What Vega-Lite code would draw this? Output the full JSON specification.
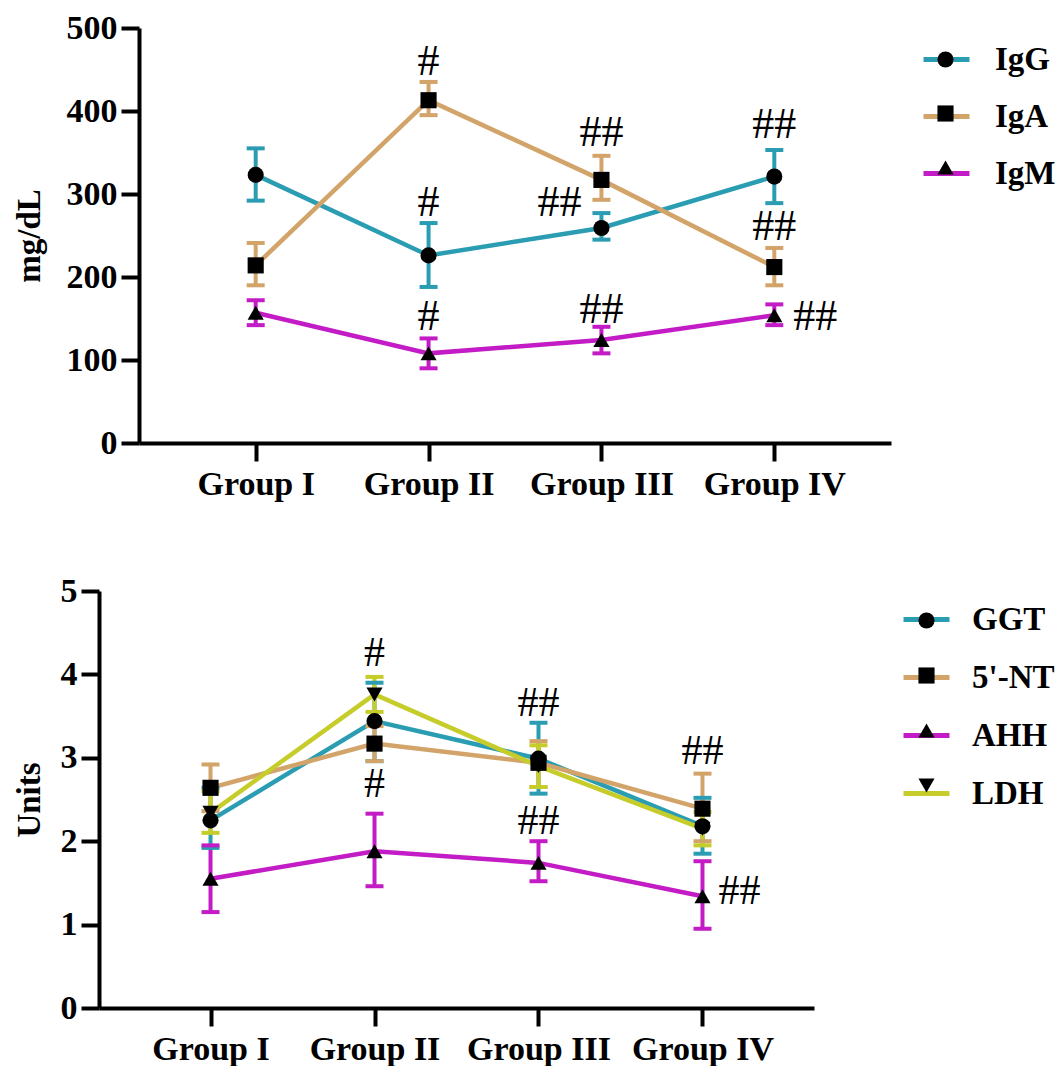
{
  "$schema": "https://vega.github.io/schema/vega-lite/v6.json",
  "autosize": {"type": "pad"},
  "padding": {"left": 13, "top": 11, "right": 0, "bottom": 0},
  "background": "white",
  "config": {
    "font": "Liberation Serif",
    "view": {"stroke": null},
    "axis": {
      "grid": false,
      "domainColor": "black", "domainWidth": 4,
      "tickColor": "black", "tickWidth": 4, "tickSize": 18,
      "labelFont": "Liberation Serif", "labelFontSize": 34, "labelFontWeight": "bold", "labelColor": "black",
      "titleFont": "Liberation Serif", "titleFontSize": 33, "titleFontWeight": "bold", "titleColor": "black"
    }
  },
  "datasets": {
    "top": [
      {"group": "Group I", "series": "IgG", "mean": 323, "lo": 292, "hi": 355},
      {"group": "Group II", "series": "IgG", "mean": 226, "lo": 188, "hi": 265},
      {"group": "Group III", "series": "IgG", "mean": 259, "lo": 245, "hi": 277},
      {"group": "Group IV", "series": "IgG", "mean": 321, "lo": 289, "hi": 353},
      {"group": "Group I", "series": "IgA", "mean": 214, "lo": 190, "hi": 241},
      {"group": "Group II", "series": "IgA", "mean": 413, "lo": 395, "hi": 435},
      {"group": "Group III", "series": "IgA", "mean": 317, "lo": 293, "hi": 346},
      {"group": "Group IV", "series": "IgA", "mean": 212, "lo": 190, "hi": 235},
      {"group": "Group I", "series": "IgM", "mean": 157, "lo": 142, "hi": 172},
      {"group": "Group II", "series": "IgM", "mean": 108, "lo": 90, "hi": 126},
      {"group": "Group III", "series": "IgM", "mean": 124, "lo": 108, "hi": 140},
      {"group": "Group IV", "series": "IgM", "mean": 154, "lo": 142, "hi": 167}
    ],
    "bottom": [
      {"group": "Group I", "series": "GGT", "mean": 2.25, "lo": 1.92, "hi": 2.64},
      {"group": "Group II", "series": "GGT", "mean": 3.44, "lo": 2.96, "hi": 3.9},
      {"group": "Group III", "series": "GGT", "mean": 2.99, "lo": 2.57, "hi": 3.42},
      {"group": "Group IV", "series": "GGT", "mean": 2.18, "lo": 1.85, "hi": 2.52},
      {"group": "Group I", "series": "5'-NT", "mean": 2.64, "lo": 2.36, "hi": 2.92},
      {"group": "Group II", "series": "5'-NT", "mean": 3.17, "lo": 2.96, "hi": 3.38},
      {"group": "Group III", "series": "5'-NT", "mean": 2.94, "lo": 2.65, "hi": 3.2},
      {"group": "Group IV", "series": "5'-NT", "mean": 2.39, "lo": 2.0, "hi": 2.81},
      {"group": "Group I", "series": "AHH", "mean": 1.55, "lo": 1.15, "hi": 1.95},
      {"group": "Group II", "series": "AHH", "mean": 1.88, "lo": 1.46, "hi": 2.33},
      {"group": "Group III", "series": "AHH", "mean": 1.74, "lo": 1.52, "hi": 2.0},
      {"group": "Group IV", "series": "AHH", "mean": 1.34, "lo": 0.95, "hi": 1.76},
      {"group": "Group I", "series": "LDH", "mean": 2.34, "lo": 2.1, "hi": 2.6},
      {"group": "Group II", "series": "LDH", "mean": 3.76, "lo": 3.55, "hi": 3.97},
      {"group": "Group III", "series": "LDH", "mean": 2.9, "lo": 2.65, "hi": 3.15},
      {"group": "Group IV", "series": "LDH", "mean": 2.15, "lo": 1.95, "hi": 2.35}
    ],
    "topAnn": [
      {"group": "Group II", "value": 459, "label": "#", "place": "above"},
      {"group": "Group II", "value": 289, "label": "#", "place": "above"},
      {"group": "Group II", "value": 152, "label": "#", "place": "above"},
      {"group": "Group III", "value": 373, "label": "##", "place": "above"},
      {"group": "Group III", "value": 289, "label": "##", "place": "left"},
      {"group": "Group III", "value": 160, "label": "##", "place": "above"},
      {"group": "Group IV", "value": 383, "label": "##", "place": "above"},
      {"group": "Group IV", "value": 260, "label": "##", "place": "above"},
      {"group": "Group IV", "value": 152, "label": "##", "place": "right"}
    ],
    "bottomAnn": [
      {"group": "Group II", "value": 4.26, "label": "#", "place": "above"},
      {"group": "Group II", "value": 2.69, "label": "#", "place": "above"},
      {"group": "Group III", "value": 3.66, "label": "##", "place": "above"},
      {"group": "Group III", "value": 2.24, "label": "##", "place": "above"},
      {"group": "Group IV", "value": 3.08, "label": "##", "place": "above"},
      {"group": "Group IV", "value": 1.4, "label": "##", "place": "right"}
    ]
  },
  "resolve": {
    "scale": {"color": "independent", "shape": "independent", "x": "independent", "y": "independent"},
    "legend": {"color": "independent", "shape": "independent"}
  },
  "spacing": 73,
  "vconcat": [
    {
      "width": 752,
      "height": 415,
      "data": {"name": "top"},
      "encoding": {
        "x": {"field": "group", "type": "ordinal", "title": null,
              "scale": {"type": "point", "padding": 0.675, "domain": ["Group I", "Group II", "Group III", "Group IV"]},
              "axis": {"labelAngle": 0, "labelPadding": 6}}
      },
      "layer": [
        {
          "mark": {"type": "line", "strokeWidth": 4.5},
          "encoding": {
            "y": {"field": "mean", "type": "quantitative", "title": "mg/dL",
                  "scale": {"domain": [0, 500], "nice": false},
                  "axis": {"values": [0, 100, 200, 300, 400, 500], "labelPadding": 4, "titlePadding": 20}},
            "color": {"field": "series", "type": "nominal",
                      "scale": {"domain": ["IgG", "IgA", "IgM"], "range": ["#2A9DB3", "#D2A469", "#C31CC6"]},
                      "legend": {"orient": "none", "legendX": 787, "legendY": 11, "title": null,
                                 "symbolType": "M-1.3,0L1.3,0", "symbolSize": 1250, "symbolStrokeWidth": 5,
                                 "labelFont": "Liberation Serif", "labelFontSize": 33, "labelFontWeight": "bold",
                                 "labelColor": "black", "labelOffset": 28, "rowPadding": 19, "padding": 0}}
          }
        },
        {
          "mark": {"type": "rule", "strokeWidth": 4},
          "encoding": {
            "y": {"field": "lo", "type": "quantitative", "title": "mg/dL"},
            "y2": {"field": "hi"},
            "color": {"field": "series", "type": "nominal", "legend": null}
          }
        },
        {
          "mark": {"type": "tick", "thickness": 4, "size": 18, "opacity": 1},
          "encoding": {
            "y": {"field": "lo", "type": "quantitative", "title": "mg/dL"},
            "color": {"field": "series", "type": "nominal", "legend": null}
          }
        },
        {
          "mark": {"type": "tick", "thickness": 4, "size": 18, "opacity": 1},
          "encoding": {
            "y": {"field": "hi", "type": "quantitative", "title": "mg/dL"},
            "color": {"field": "series", "type": "nominal", "legend": null}
          }
        },
        {
          "mark": {"type": "point", "filled": true, "size": 260, "color": "black", "opacity": 1},
          "encoding": {
            "y": {"field": "mean", "type": "quantitative", "title": "mg/dL"},
            "shape": {"field": "series", "type": "nominal", "sort": ["IgG", "IgA", "IgM"],
                      "scale": {"range": ["circle", "square", "triangle-up"]},
                      "legend": {"orient": "none", "legendX": 790, "legendY": 15, "title": null,
                                 "symbolFillColor": "black", "symbolStrokeColor": "black", "symbolSize": 260,
                                 "labelExpr": "' '", "labelFont": "Liberation Serif", "labelFontSize": 33,
                                 "labelFontWeight": "bold", "rowPadding": 20, "padding": 0}}
          }
        },
        {
          "data": {"name": "topAnn"},
          "transform": [{"filter": "datum.place === 'above'"}],
          "mark": {"type": "text", "font": "Liberation Serif", "fontSize": 44, "baseline": "middle", "align": "center", "color": "black"},
          "encoding": {
            "y": {"field": "value", "type": "quantitative", "title": "mg/dL"},
            "text": {"field": "label"}
          }
        },
        {
          "data": {"name": "topAnn"},
          "transform": [{"filter": "datum.place === 'left'"}],
          "mark": {"type": "text", "font": "Liberation Serif", "fontSize": 44, "baseline": "middle", "align": "center", "dx": -42, "color": "black"},
          "encoding": {
            "y": {"field": "value", "type": "quantitative", "title": "mg/dL"},
            "text": {"field": "label"}
          }
        },
        {
          "data": {"name": "topAnn"},
          "transform": [{"filter": "datum.place === 'right'"}],
          "mark": {"type": "text", "font": "Liberation Serif", "fontSize": 44, "baseline": "middle", "align": "center", "dx": 41, "color": "black"},
          "encoding": {
            "y": {"field": "value", "type": "quantitative", "title": "mg/dL"},
            "text": {"field": "label"}
          }
        }
      ]
    },
    {
      "width": 675,
      "height": 417,
      "data": {"name": "bottom"},
      "encoding": {
        "x": {"field": "group", "type": "ordinal", "title": null,
              "scale": {"type": "point", "padding": 0.68, "range": [-40, 675], "domain": ["Group I", "Group II", "Group III", "Group IV"]},
              "axis": {"labelAngle": 0, "labelPadding": 6}}
      },
      "layer": [
        {
          "mark": {"type": "line", "strokeWidth": 4.5},
          "encoding": {
            "y": {"field": "mean", "type": "quantitative", "title": "Units",
                  "scale": {"domain": [0, 5], "nice": false},
                  "axis": {"values": [0, 1, 2, 3, 4, 5], "format": "d", "offset": 40, "labelPadding": 4, "titlePadding": 14}},
            "color": {"field": "series", "type": "nominal",
                      "scale": {"domain": ["GGT", "5'-NT", "AHH", "LDH"], "range": ["#2A9DB3", "#D2A469", "#C31CC6", "#C6CC2A"]},
                      "legend": {"orient": "none", "legendX": 767, "legendY": 8, "title": null,
                                 "symbolType": "M-1.3,0L1.3,0", "symbolSize": 1250, "symbolStrokeWidth": 5,
                                 "labelFont": "Liberation Serif", "labelFontSize": 33, "labelFontWeight": "bold",
                                 "labelColor": "black", "labelOffset": 25, "rowPadding": 20, "padding": 0}}
          }
        },
        {
          "mark": {"type": "rule", "strokeWidth": 4},
          "encoding": {
            "y": {"field": "lo", "type": "quantitative", "title": "Units"},
            "y2": {"field": "hi"},
            "color": {"field": "series", "type": "nominal", "legend": null}
          }
        },
        {
          "mark": {"type": "tick", "thickness": 4, "size": 18, "opacity": 1},
          "encoding": {
            "y": {"field": "lo", "type": "quantitative", "title": "Units"},
            "color": {"field": "series", "type": "nominal", "legend": null}
          }
        },
        {
          "mark": {"type": "tick", "thickness": 4, "size": 18, "opacity": 1},
          "encoding": {
            "y": {"field": "hi", "type": "quantitative", "title": "Units"},
            "color": {"field": "series", "type": "nominal", "legend": null}
          }
        },
        {
          "mark": {"type": "point", "filled": true, "size": 260, "color": "black", "opacity": 1},
          "encoding": {
            "y": {"field": "mean", "type": "quantitative", "title": "Units"},
            "shape": {"field": "series", "type": "nominal", "sort": ["GGT", "5'-NT", "AHH", "LDH"],
                      "scale": {"range": ["circle", "square", "triangle-up", "triangle-down"]},
                      "legend": {"orient": "none", "legendX": 771, "legendY": 13, "title": null,
                                 "symbolFillColor": "black", "symbolStrokeColor": "black", "symbolSize": 260,
                                 "labelExpr": "' '", "labelFont": "Liberation Serif", "labelFontSize": 33,
                                 "labelFontWeight": "bold", "rowPadding": 21, "padding": 0}}
          }
        },
        {
          "data": {"name": "bottomAnn"},
          "transform": [{"filter": "datum.place === 'above'"}],
          "mark": {"type": "text", "font": "Liberation Serif", "fontSize": 42, "baseline": "middle", "align": "center", "color": "black"},
          "encoding": {
            "y": {"field": "value", "type": "quantitative", "title": "Units"},
            "text": {"field": "label"}
          }
        },
        {
          "data": {"name": "bottomAnn"},
          "transform": [{"filter": "datum.place === 'right'"}],
          "mark": {"type": "text", "font": "Liberation Serif", "fontSize": 42, "baseline": "middle", "align": "center", "dx": 37, "color": "black"},
          "encoding": {
            "y": {"field": "value", "type": "quantitative", "title": "Units"},
            "text": {"field": "label"}
          }
        }
      ]
    }
  ]
}
